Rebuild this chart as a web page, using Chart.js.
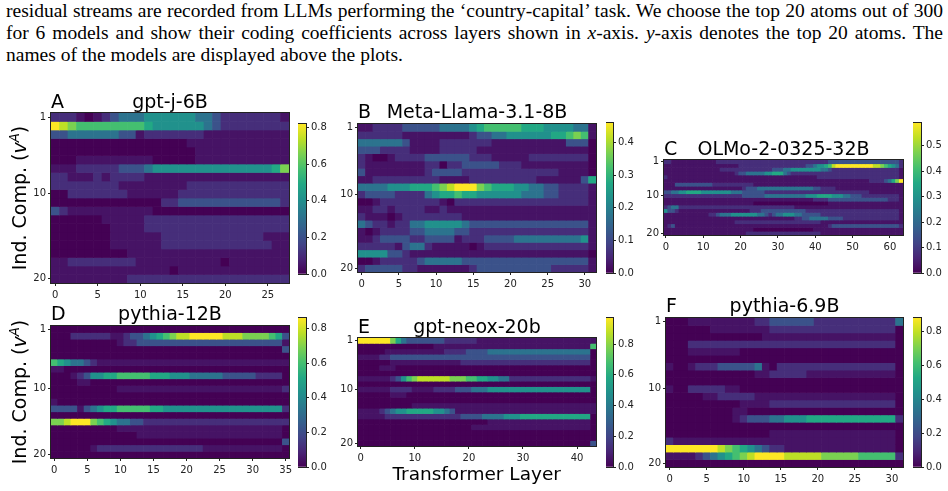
<!DOCTYPE html>
<html>
<head>
<meta charset="utf-8">
<script src="https://cdn.jsdelivr.net/npm/chart.js@4.4.1/dist/chart.umd.min.js"></script>
<style>
  body { margin: 0; background: #fff; }
  #page { position: relative; width: 948px; height: 491px; overflow: hidden; font-family: "DejaVu Sans", sans-serif; color: #000; }
  .para { position: absolute; left: 6px; font-family: "Liberation Serif", serif; font-size: 19.5px; line-height: 19.5px; white-space: nowrap; }
  .ttl { position: absolute; font-size: 19px; line-height: 19px; white-space: nowrap; }
  .ylab { position: absolute; font-size: 19px; line-height: 19px; white-space: nowrap; transform: translate(-50%, -50%) rotate(-90deg); }
  .ylab sup { font-size: 70%; }
  canvas { position: absolute; }
</style>
</head>
<body>
<div id="page">
  <div class="para" id="l1" style="top:1px">residual streams are recorded from LLMs performing the ‘country-capital’ task. We choose the top 20 atoms out of 300</div>
  <div class="para" id="l2" style="top:23px">for 6 models and show their coding coefficients across layers shown in <i>x</i>-axis. <i>y</i>-axis denotes the top 20 atoms. The</div>
  <div class="para" id="l3" style="top:45.4px">names of the models are displayed above the plots.</div>
</div>
<script>
// Mỗi ô ghi một mã mức 0..9, a; levelValue cho biết mã đó là bao nhiêu phần của max thang màu
// hàng = atom 1..20 (từ trên xuống), cột = layer
const levelValue = [0, 0.05, 0.13, 0.25, 0.38, 0.5, 0.6, 0.7, 0.8, 0.9, 1.0];

const gptjRows = [
  "2221012344 4555555443 22222221",
  "a987777777 7655555543 22222222",
  "3344444433 1222222211 11111111",
  "0000000000 0000001111 11111111",
  "0000000000 0000000111 11111111",
  "0001111111 1100000111 11111111",
  "1112222233 3455555555 55555568",
  "2211121222 2111111111 11111111",
  "2222222211 1111112222 22222222",
  "0022222221 1111122222 22222222",
  "0000000000 0002233333 33333332",
  "3211111111 1100000000 00000000",
  "0000001111 1222222222 22222222",
  "0000000111 1222222222 22222222",
  "0000000111 1112222222 22222111",
  "0000000111 1112222222 22222211",
  "0000000001 1111111111 11111111",
  "1122222222 1111111111 01111111",
  "1111111111 1111011111 11111111",
  "1111111112 2222222222 22222222",
];
const llamaRows = [
  "1122223333 3444456777 7766655554 41",
  "2222221111 1111123344 5555556678 71",
  "4444443111 1222222211 1111111133 30",
  "3332222111 1222221111 1111111111 10",
  "2100122223 3333322211 1112222222 20",
  "2111111112 2022333332 2211111111 10",
  "3111111112 3333222222 2222222111 10",
  "1122222222 2111122222 2222111111 36",
  "4444555666 789aaa8766 6554433222 21",
  "2333322224 5667665555 5544433222 21",
  "0012222222 2102222222 2222222222 21",
  "1122122221 1211111111 1111111111 11",
  "2111012222 2222111111 1111111111 11",
  "4322122445 5555433333 3333333333 31",
  "1012222334 4443322222 2222222222 21",
  "1123333223 3331222333 3444444444 51",
  "2222213442 1111101222 2222222222 21",
  "5555332111 1111111111 1111111111 10",
  "0012222234 4444333333 3333333333 31",
  "2333332211 1111123333 3333332222 21",
];
const olmoRows = [
  "22111111 11111122 22222222 22222222 22222222 22223333 33333333 33333332",
  "11111111 11111111 11112222 22222222 22222233 455679aa aaaaaaaa 99876542",
  "11111111 11111112 22222222 22222333 44555555 55443222 22222222 22222221",
  "11111111 11111111 11123344 44455666 43222222 22222222 22222222 22222221",
  "21111111 11111111 11111111 11111111 11111111 12222222 22222222 22222221",
  "11111111 11111111 11111111 11111111 11111111 11111111 11111112 2223468a",
  "11133333 33333222 22222222 11111111 11111111 11111111 11111111 11111111",
  "11111111 11111111 11111233 34444444 44444444 33222211 11111111 11111111",
  "33445566 66555555 55444333 33322222 22222222 22222222 22222221 11111111",
  "22222222 22222222 22222333 33344444 44444455 56666555 44333222 22222221",
  "11111111 11111111 11111111 11111111 11111111 22223333 33333333 33332221",
  "11111111 11111111 11111111 00000000 00000000 00001111 11111111 11111111",
  "23442222 22222222 22222222 22222222 22211111 11111111 11111111 11111111",
  "53321111 11111111 11111112 22333333 33333322 22222222 22222222 22222221",
  "11111111 11112234 44555555 54432344 55544333 33222222 22222222 22222221",
  "11111111 11111111 11111111 11111111 11122334 44443333 22222222 22222221",
  "11111111 11111111 11122222 22222222 22222222 22111111 11111111 11111111",
  "12311111 11111111 11111111 11111111 11111111 11112333 33333333 33333332",
  "11111111 11111111 11111111 00000000 00000000 11111111 11111111 11111111",
  "11111111 11111111 11111122 22222222 22222222 22111111 11111111 11111111",
];
const pythia12Rows = [
  "00000000 00000000 00000000 00000000 0000",
  "00022222 21123345 67899aaa aa999888 8763",
  "00000000 00122333 33333333 33333333 3331",
  "00000000 00000000 00000000 00000000 0003",
  "00000000 00000000 00000000 00000000 0000",
  "76544321 11111111 11111111 11111111 1111",
  "11000000 00000000 00000000 00000000 0000",
  "00012355 66777776 66555444 44333332 2220",
  "00001100 00000000 00000000 00000000 0000",
  "00000000 00111111 11111111 11111111 1112",
  "00000000 00000000 00000000 00000000 0000",
  "10000000 00000000 00000000 00000000 0000",
  "33331345 66777776 65555555 55555555 5552",
  "00000000 00000000 00000000 00000000 0000",
  "889aaa87 65443322 22222222 22222222 2222",
  "00000000 00111111 11111111 11111111 1110",
  "00000000 00000111 11111111 11111111 1110",
  "00000000 00000000 00000000 00000000 0003",
  "00000012 22222222 22222221 11111111 1110",
  "00000000 00000000 00000000 00000000 0000",
];
const neoxRows = [
  "aaaaaa86 43333333 22222211 11111111 11111111 1111",
  "00000000 00000011 11111111 11111111 11111111 1117",
  "00000111 11111111 22223333 44444444 44444444 4440",
  "11112233 33333333 33333333 33333333 33333333 3330",
  "00000011 11111111 11122222 22222222 22222222 2220",
  "00001110 00000000 00000000 00000000 00000000 0000",
  "00000000 00000000 00000000 00000000 00000000 0000",
  "11111123 57899999 98887766 55442222 22222222 2221",
  "00000000 00000000 00000000 00000000 00000000 0000",
  "11111122 22111122 22333444 55555555 55555555 5550",
  "00000011 10000000 00000000 00000000 00000000 0000",
  "00000000 00000000 00000000 00000000 00000000 0000",
  "00000000 00111111 11111111 11111111 11111111 1111",
  "11112345 56666655 43111111 11111111 11111111 1111",
  "11111222 22222222 22233334 44455566 66666666 6660",
  "00000000 00000000 00000000 11111111 11111111 1110",
  "00000000 00000000 00000111 11111111 11111111 1110",
  "00000000 00000000 00000000 00000000 00000000 0000",
  "00000000 00000000 00000000 00000000 00000000 0000",
  "00000000 00000000 00000000 00000000 00000000 0003",
];
const pythia69Rows = [
  "00011111 11112233 33332222 22222224",
  "00000011 11111122 22222222 22222220",
  "00000000 00000111 11111111 11111110",
  "00022222 22222222 22222222 22222220",
  "00011111 11000000 00000000 00000000",
  "00000000 00000000 00000000 00000000",
  "10012223 33334102 22222222 22222220",
  "00000000 00001122 22211111 11111110",
  "00000000 00000000 00000000 00000000",
  "10022222 11000000 00000000 00000000",
  "00000112 22221111 11111111 11111110",
  "00000000 00111122 22222222 22222220",
  "00000000 01100000 00000000 00000000",
  "00000000 01233344 55566666 66666662",
  "00000000 00000000 00000000 00000000",
  "00000000 00000011 11111111 11111110",
  "21111111 11111111 11111111 11111110",
  "aaaaaaa9 87654322 11111111 11111110",
  "11112345 6789aaaa 99999888 88777772",
  "00000000 00000000 00000000 00000000",
];

const modelNames = ["gpt-j-6B", "Meta-Llama-3.1-8B", "OLMo-2-0325-32B", "pythia-12B", "gpt-neox-20b", "pythia-6.9B"];
const panelLetters = ["A", "B", "C", "D", "E", "F"];
const colorMax = [0.82, 0.46, 0.59, 0.86, 0.97, 0.88];
const colorTicks = [
  [0, 0.2, 0.4, 0.6, 0.8],
  [0, 0.1, 0.2, 0.3, 0.4],
  [0, 0.1, 0.2, 0.3, 0.4, 0.5],
  [0, 0.2, 0.4, 0.6, 0.8],
  [0, 0.2, 0.4, 0.6, 0.8],
  [0, 0.2, 0.4, 0.6, 0.8],
];
const layerTickStep = [5, 5, 10, 5, 10, 5];
const atomTicks = [1, 10, 20];
const allRows = [gptjRows, llamaRows, olmoRows, pythia12Rows, neoxRows, pythia69Rows];

// vị trí khung (x, y, rộng, cao) của heatmap và thanh màu
const axesBox = [[51, 113, 238, 170], [358, 124, 238, 148], [664, 160, 239, 75],
                 [51, 326, 238, 132], [358, 338, 238, 108], [666, 318, 237, 149]];
const cbarBox = [[298, 122, 8, 154], [606, 121, 7, 154], [913, 121, 8, 154],
                 [298, 316, 8, 153], [606, 316, 7, 153], [913, 316, 8, 153]];
const titleBase = [107.7, 117.7, 155, 320, 332.7, 311.7];

const VIRIDIS = ["#440154", "#482475", "#414487", "#355f8d", "#2a788e", "#21918c",
                 "#22a884", "#44bf70", "#7ad151", "#bddf26", "#fde725"];
function hex2rgb(h) { return [1, 3, 5].map(i => parseInt(h.substr(i, 2), 16)); }
function viridis(t) {
  t = Math.max(0, Math.min(1, t)) * 10;
  const i = Math.min(9, Math.floor(t)), f = t - i;
  const a = hex2rgb(VIRIDIS[i]), b = hex2rgb(VIRIDIS[i + 1]);
  return "rgb(" + a.map((v, k) => Math.round(v + (b[k] - v) * f)).join(",") + ")";
}
const CODES = "0123456789a";

Chart.defaults.font.family = "'DejaVu Sans', sans-serif";
Chart.defaults.font.size = 10;
Chart.defaults.color = "#222";

// vẽ khung đen quanh vùng biểu đồ
const framePlugin = {
  id: "frame",
  afterDraw(chart) {
    const a = chart.chartArea, c = chart.ctx;
    c.save();
    c.strokeStyle = "#222";
    c.lineWidth = 1;
    c.strokeRect(Math.round(a.left) - 0.5, Math.round(a.top) - 0.5,
                 Math.round(a.right - a.left) + 1, Math.round(a.bottom - a.top) + 1);
    c.restore();
  }
};

const page = document.getElementById("page");
const Y_W = 30, PAD_T = 8, PAD_R = 10, X_H = 22;

function addCanvas(x, y, w, h) {
  const cv = document.createElement("canvas");
  cv.width = w; cv.height = h;
  cv.style.left = x + "px"; cv.style.top = y + "px";
  page.appendChild(cv);
  return cv;
}

function addText(cls, html, x, y, center) {
  const d = document.createElement("div");
  d.className = cls;
  d.innerHTML = html;
  d.style.left = x + "px";
  d.style.top = y + "px";
  if (center) d.style.transform = "translateX(-50%)";
  page.appendChild(d);
  return d;
}

function drawHeatmap(p) {
  const rows = allRows[p].map(r => r.replace(/ /g, ""));
  const vmax = colorMax[p];
  const nLayers = rows[0].length;
  const layers = Array.from({ length: nLayers }, (_, i) => String(i));
  const [ax, ay, aw, ah] = axesBox[p];

  const datasets = rows.map((row, r) => {
    const values = [...row].map(ch => levelValue[CODES.indexOf(ch)] * vmax);
    return {
      data: layers.map(() => [r, r + 1]),
      backgroundColor: values.map(v => viridis(v / vmax)),
      grouped: false,
      barPercentage: 1,
      categoryPercentage: 1,
      borderWidth: 0
    };
  });

  const cv = addCanvas(ax - Y_W, ay - PAD_T, Y_W + aw + PAD_R, PAD_T + ah + X_H);
  new Chart(cv, {
    type: "bar",
    data: { labels: layers, datasets },
    options: {
      responsive: false, animation: false, events: [], devicePixelRatio: 1,
      layout: { padding: { top: PAD_T, right: PAD_R, left: 0, bottom: 0 } },
      plugins: { legend: { display: false }, tooltip: { enabled: false } },
      scales: {
        x: {
          type: "category", offset: true,
          grid: { offset: false, drawOnChartArea: false, tickLength: 3, color: "#222" },
          border: { display: false },
          ticks: { autoSkip: false, maxRotation: 0, padding: 3,
                   callback: (v, i) => (i % layerTickStep[p] === 0 ? String(i) : null) },
          afterFit: s => { s.height = X_H; }
        },
        y: {
          type: "linear", min: 0, max: 20, reverse: true,
          grid: { drawOnChartArea: false, tickLength: 3, color: "#222" },
          border: { display: false },
          ticks: { padding: 2, callback: v => String(Math.round(v + 0.5)) },
          afterBuildTicks: s => { s.ticks = atomTicks.map(k => ({ value: k - 0.5 })); },
          afterFit: s => { s.width = Y_W; }
        }
      }
    },
    plugins: [framePlugin]
  });

  // tiêu đề: chữ cái bên trái, tên mô hình ở giữa
  addText("ttl", panelLetters[p], ax, titleBase[p] - 16);
  addText("ttl", modelNames[p], ax + aw / 2, titleBase[p] - 16, true);
}

function drawColorbar(p) {
  const vmax = colorMax[p];
  const [cx, cy, cw, ch] = cbarBox[p];
  const CB_PAD = 6, CB_W = 34;
  const cv = addCanvas(cx, cy - CB_PAD, cw + CB_W, ch + 2 * CB_PAD);
  new Chart(cv, {
    type: "bar",
    data: {
      labels: [""],
      datasets: [{
        data: [[0, vmax]],
        barPercentage: 1, categoryPercentage: 1, borderWidth: 0,
        backgroundColor: ctx => {
          const a = ctx.chart.chartArea;
          if (!a) return VIRIDIS[0];
          const g = ctx.chart.ctx.createLinearGradient(0, a.bottom, 0, a.top);
          VIRIDIS.forEach((c, i) => g.addColorStop(i / 10, c));
          return g;
        }
      }]
    },
    options: {
      responsive: false, animation: false, events: [], devicePixelRatio: 1,
      layout: { padding: { top: CB_PAD, bottom: CB_PAD, left: 0, right: 0 } },
      plugins: { legend: { display: false }, tooltip: { enabled: false } },
      scales: {
        x: { display: false },
        y: {
          position: "right", min: 0, max: vmax,
          grid: { drawOnChartArea: false, tickLength: 3, color: "#222" },
          border: { display: false },
          ticks: { padding: 2, callback: v => v.toFixed(1) },
          afterBuildTicks: s => { s.ticks = colorTicks[p].map(v => ({ value: v })); },
          afterFit: s => { s.width = CB_W; }
        }
      }
    },
    plugins: [framePlugin]
  });
}

for (let p = 0; p < 6; p++) {
  drawHeatmap(p);
  drawColorbar(p);
}

// nhãn trục
const yl = "Ind. Comp. (<i>v</i><sup><i>A</i></sup>)";
addText("ylab", yl, 17, 198);
addText("ylab", yl, 17, 392);
const xl = addText("ttl", "Transformer Layer", 476.7, 480 - 15.6, true);
xl.style.fontSize = "18.5px";

// căn đều hai dòng đầu của đoạn văn
function justify() {
  ["l1", "l2"].forEach(id => {
    const el = document.getElementById(id);
    el.style.wordSpacing = "0px";
    const w = el.getBoundingClientRect().width;
    const n = (el.textContent.match(/ /g) || []).length;
    el.style.wordSpacing = ((937 - w) / n) + "px";
  });
}
justify();
if (document.fonts) document.fonts.ready.then(justify);
</script>
</body>
</html>
